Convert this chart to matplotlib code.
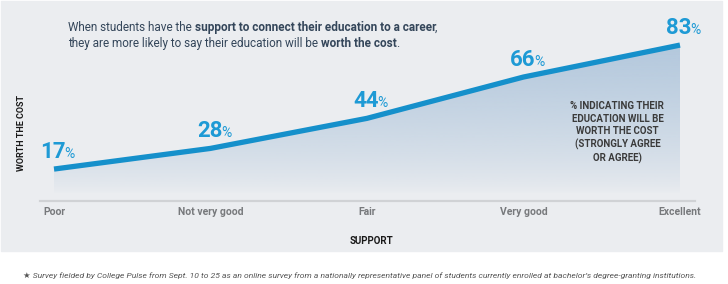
import numpy as np
import matplotlib
matplotlib.use('Agg')
import matplotlib.pyplot as plt
from matplotlib.patches import Rectangle
from matplotlib.colors import to_rgb

# datos
categorias = ['Poor', 'Not very good', 'Fair', 'Very good', 'Excellent']
valores = [17, 28, 44, 66, 83]

titulo_l1 = [('When students have the ', 'normal'),
             ('support to connect their education to a career', 'bold'),
             (',', 'normal')]
titulo_l2 = [('they are more likely to say their education will be ', 'normal'),
             ('worth the cost', 'bold'),
             ('.', 'normal')]
nota = ('% INDICATING THEIR\nEDUCATION WILL BE\nWORTH THE COST\n'
        '(STRONGLY AGREE\nOR AGREE)')
pie = ('\u2605 Survey fielded by College Pulse from Sept. 10 to 25 as an online survey '
       'from a nationally representative panel of students currently enrolled at '
       'bachelor\u2019s degree-granting institutions.')

W, H = 728, 284
FONDO = '#ebedf0'
AZUL = '#1590cb'
AZUL_TXT = '#1e9ad5'
plt.rcParams['font.family'] = ['Roboto', 'DejaVu Sans']


def fx(px):
    return px / W


def fy(py):
    return 1 - py / H


def linea_rica(fig, x, y, partes, **kw):
    # escribe trozos normal/negrita uno tras otro
    r = fig.canvas.get_renderer()
    for texto, peso in partes:
        t = fig.text(x, y, texto, weight=peso, **kw)
        bb = t.get_window_extent(r)
        ajuste = 0 if texto.endswith(' ') else 1.0
        x = fig.transFigure.inverted().transform((bb.x1 - ajuste, bb.y0))[0]


fig = plt.figure(figsize=(W / 100, H / 100), dpi=100, facecolor='white')
fig.patches.append(Rectangle((fx(1), fy(251)), fx(721), 250 / H,
                             transform=fig.transFigure, color=FONDO, zorder=-5))

ax = fig.add_axes([fx(40), fy(201), fx(655), 201 / H])
ax.set_facecolor('none')
x = np.arange(len(valores))
ax.set_xlim((40 - 54) / 156.5, (695 - 54) / 156.5)
ax.set_ylim(0, 107)

# relleno con degradado
poly = ax.fill_between(x, valores, 0, color='none', lw=0)
yy = np.linspace(0, max(valores), 200)
alfa = np.clip((yy - 4) / (max(valores) - 4), 0, 1) ** 0.7
img = np.zeros((len(yy), 1, 4))
img[:, 0, :3] = to_rgb('#b3c8dd')
img[:, 0, 3] = alfa
im = ax.imshow(img, extent=[0, x[-1], 0, max(valores)], origin='lower',
               aspect='auto', zorder=1)
im.set_clip_path(poly.get_paths()[0], transform=ax.transData)

ax.plot(x, valores, color=AZUL, lw=3.8, solid_capstyle='butt', zorder=3)

# etiquetas de porcentaje
r = fig.canvas.get_renderer()
for i, v in enumerate(valores):
    n = ax.annotate(str(v), (i, v), xytext=(0, 8), textcoords='offset points',
                    ha='left', va='baseline', fontsize=16, weight='bold',
                    color=AZUL_TXT, zorder=4)
    p = ax.annotate('%', (i, v), xytext=(0, 8), textcoords='offset points',
                    ha='left', va='baseline', fontsize=10, color=AZUL_TXT, zorder=4)
    w1 = n.get_window_extent(r).width * 72 / 100
    w2 = p.get_window_extent(r).width * 72 / 100
    x0 = -(w1 + w2) / 2 + 3
    n.set_position((x0, 8))
    p.set_position((x0 + w1 - 1, 8))

ax.text(3.6, 53, nota, ha='center', va='top', fontsize=7, weight='bold',
        color='#3b3b3b', linespacing=1.3, zorder=4)

for s in ['top', 'right', 'left']:
    ax.spines[s].set_visible(False)
ax.spines['bottom'].set_color('#d0d2d5')
ax.spines['bottom'].set_linewidth(1.6)
ax.set_yticks([])
ax.set_xticks(x, categorias)
ax.tick_params(axis='x', length=0, pad=4, labelsize=7.5, labelcolor='#77797c')
for t in ax.get_xticklabels():
    t.set_fontweight('bold')

fig.text(fx(372), fy(241), 'SUPPORT', ha='center', va='center', fontsize=7,
         weight='bold', color='#1a1a1a')
fig.text(fx(22), fy(133), 'WORTH THE COST', ha='center', va='center', rotation=90,
         fontsize=6.5, weight='bold', color='#1a1a1a')

linea_rica(fig, fx(68), fy(31), titulo_l1, fontsize=8.5, color='#34465a')
linea_rica(fig, fx(68), fy(47), titulo_l2, fontsize=8.5, color='#34465a')

fig.text(fx(23), fy(276), pie, ha='left', va='center', fontsize=6.1,
         style='italic', color='#555555')

fig.savefig('out.png', dpi=100, facecolor='white')
